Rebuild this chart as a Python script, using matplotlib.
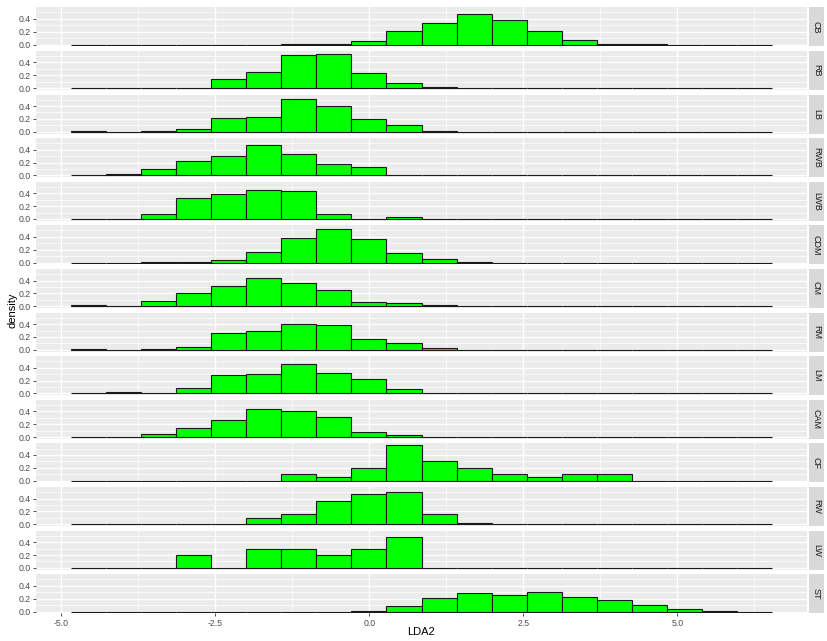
import numpy as np
import matplotlib
matplotlib.use('Agg')
import matplotlib.pyplot as plt
from matplotlib.patches import Rectangle

plt.rcParams['font.family'] = ['Liberation Sans', 'DejaVu Sans']

# LDA2 histogram densities per position, 20 bins
positions = ['CB', 'RB', 'LB', 'RWB', 'LWB', 'CDM', 'CM', 'RM', 'LM', 'CAM', 'CF', 'RW', 'LW', 'ST']
bin_start = -4.842
bin_width = 0.5689
n_bins = 20

cb = [0, 0, 0, 0, 0, 0, 0.003, 0.01, 0.048, 0.21, 0.336, 0.475, 0.384, 0.208, 0.064, 0.016, 0.003, 0, 0, 0]
rb = [0, 0, 0, 0.01, 0.142, 0.253, 0.51, 0.526, 0.237, 0.084, 0.016, 0, 0, 0, 0, 0, 0, 0, 0, 0]
lb = [0.01, 0.003, 0.01, 0.047, 0.213, 0.234, 0.514, 0.40, 0.197, 0.109, 0.016, 0, 0, 0, 0, 0, 0, 0, 0, 0]
rwb = [0, 0.027, 0.096, 0.229, 0.309, 0.469, 0.331, 0.181, 0.133, 0, 0, 0, 0, 0, 0, 0, 0, 0, 0, 0]
lwb = [0, 0, 0.079, 0.326, 0.384, 0.453, 0.432, 0.079, 0, 0.032, 0, 0, 0, 0, 0, 0, 0, 0, 0, 0]
cdm = [0, 0, 0.003, 0.01, 0.042, 0.163, 0.39, 0.53, 0.374, 0.142, 0.053, 0.008, 0, 0, 0, 0, 0, 0, 0, 0]
cm = [0.026, 0.01, 0.079, 0.2, 0.31, 0.442, 0.358, 0.247, 0.063, 0.047, 0.016, 0, 0, 0, 0, 0, 0, 0, 0, 0]
rm = [0.008, 0, 0.016, 0.047, 0.268, 0.3, 0.395, 0.379, 0.168, 0.11, 0.021, 0, 0, 0, 0, 0, 0, 0, 0, 0]
lm = [0, 0.027, 0.01, 0.08, 0.288, 0.298, 0.458, 0.32, 0.224, 0.075, 0, 0, 0, 0, 0, 0, 0, 0, 0, 0]
cam = [0.008, 0.005, 0.047, 0.142, 0.263, 0.437, 0.41, 0.31, 0.079, 0.037, 0.005, 0, 0, 0, 0, 0, 0, 0, 0, 0]
cf = [0, 0, 0, 0, 0, 0, 0.1, 0.05, 0.2, 0.552, 0.301, 0.2, 0.1, 0.05, 0.1, 0.1, 0, 0, 0, 0]
rw = [0, 0, 0, 0, 0, 0.096, 0.16, 0.363, 0.464, 0.496, 0.16, 0.027, 0, 0, 0, 0, 0, 0, 0, 0]
lw = [0, 0, 0, 0.195, 0, 0.293, 0.293, 0.195, 0.293, 0.488, 0, 0, 0, 0, 0, 0, 0, 0, 0, 0]
st = [0, 0, 0, 0, 0, 0, 0, 0, 0.005, 0.08, 0.216, 0.29, 0.258, 0.306, 0.232, 0.18, 0.1, 0.032, 0.005, 0]

densities = [cb, rb, lb, rwb, lwb, cdm, cm, rm, lm, cam, cf, rw, lw, st]

x_ticks = [-5.0, -2.5, 0.0, 2.5, 5.0]
y_ticks = [0.0, 0.2, 0.4]

left_edges = bin_start + bin_width * np.arange(n_bins)
x_lo = bin_start
x_hi = bin_start + bin_width * n_bins
pad = (x_hi - x_lo) * 0.05
ymax = max(max(d) for d in densities)

W, H = 827, 641
fig, axes = plt.subplots(len(positions), 1, figsize=(W / 100, H / 100), dpi=100, sharex=True)
fig.subplots_adjust(left=36 / W, right=807 / W, top=1 - 7.3 / H, bottom=1 - 613.3 / H, hspace=0.118)

for ax, name, dens in zip(axes, positions, densities):
    ax.set_facecolor('#EBEBEB')
    ax.bar(left_edges, dens, width=bin_width, align='edge', color='#00FF00',
           edgecolor='#1A1A1A', linewidth=0.8, zorder=3)
    ax.set_xlim(x_lo - pad, x_hi + pad)
    ax.set_ylim(-ymax * 0.05, ymax * 1.05)
    ax.set_xticks(x_ticks)
    ax.set_xticks([-3.75, -1.25, 1.25, 3.75, 6.25], minor=True)
    ax.set_yticks(y_ticks)
    ax.set_yticks([0.1, 0.3, 0.5], minor=True)
    ax.set_yticklabels([f'{v:.1f}' for v in y_ticks])
    ax.grid(which='major', color='white', linewidth=1.0, zorder=0)
    ax.grid(which='minor', color='white', linewidth=0.5, zorder=0)
    ax.set_axisbelow(True)
    for s in ax.spines.values():
        s.set_visible(False)
    ax.tick_params(axis='both', which='major', length=2.5, width=0.6, color='#333333',
                   labelsize=6.3, labelcolor='#4D4D4D', pad=1.5)
    ax.tick_params(axis='both', which='minor', length=0)
    ax.tick_params(axis='x', bottom=False, labelbottom=False)
    # facet strip on the right
    ax.add_patch(Rectangle((1.002, 0), 0.0205, 1, transform=ax.transAxes,
                           facecolor='#D9D9D9', edgecolor='none', clip_on=False))
    ax.text(1.0122, 0.5, name, transform=ax.transAxes, rotation=-90,
            ha='center', va='center', fontsize=6.5, color='#1A1A1A')

axes[-1].tick_params(axis='x', bottom=True, labelbottom=True)
axes[-1].set_xticklabels([f'{v:.1f}' for v in x_ticks])

fig.text(421 / W, 1 - 632 / H, 'LDA2', ha='center', va='center', fontsize=8, color='black')
fig.text(12 / W, 1 - 310 / H, 'density', ha='center', va='center', rotation=90,
         fontsize=8, color='black')

fig.savefig('out.png', dpi=100)
